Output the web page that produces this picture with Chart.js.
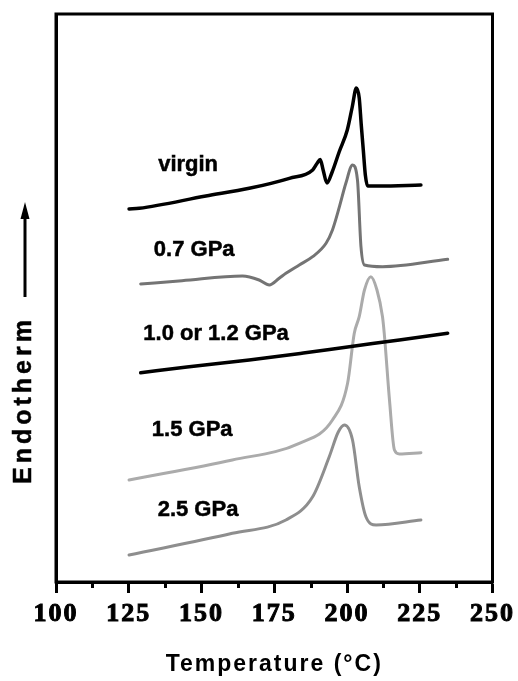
<!DOCTYPE html>
<html>
<head>
<meta charset="utf-8">
<script src="https://cdn.jsdelivr.net/npm/chart.js@4/dist/chart.umd.min.js"></script>
<style>
  html, body { margin: 0; padding: 0; background: #fff; }
  #wrap { width: 518px; height: 681px; }
</style>
</head>
<body>
<div id="wrap"><canvas id="c" width="518" height="681"></canvas></div>
<script>
// Temperature (°C) and endotherm signal (arbitrary units, curves offset vertically)
const virginT = [125.1,128.6,151.5,166.4,180.2,188.2,189.8,190.8,191.8,193.1,194.9,197.3,200.1,201.8,203.2,204.2,204.9,205.6,206.3,207.1,211.1,225.4];
const virginY = [373,373.7,386,393.7,403.7,412,419,422.5,412,399,410,430,452,475,494,484,457,432,407,396,396,397];

const gpa07T = [129.1,143.3,164.1,169.8,173.3,176.7,179.0,183.6,188.2,192.8,195.0,197.4,199.6,201.9,203.6,204.8,206,212.2,234.6];
const gpa07Y = [298,301.3,306,302,297,303.7,308.7,317,325.3,338.7,352,375.3,398.7,417,402,335.3,317,315.3,322.7];

const gpa10T = [129.1,145,166.4,185,200.8,218,234.6];
const gpa10Y = [209.3,215,222,229,235.3,242,248.7];

const gpa15T = [125.1,160.6,183.6,195.0,200.2,202.5,204.2,206,208.2,210.3,212.2,212.8,214.6,216.3,218,225.4];
const gpa15Y = [102,122,138.7,162,198.7,248.7,265.3,292,305.3,292,265.3,248.7,182,132,128,129.3];

const gpa25T = [125.1,160.6,179.0,188.2,193.9,197,199.1,201.9,204.2,206.5,210,225.4];
const gpa25Y = [27,48.7,62,85.3,125.3,150,157,142,95.3,65.3,57,62];

const curveNames = ['virgin', '0.7 GPa', '1.0 or 1.2 GPa', '1.5 GPa', '2.5 GPa'];
const xTickLabels = [100,125,150,175,200,225,250];
const minorTicks = [112.5,137.5,162.5,187.5,212.5,237.5];

// label anchors (in data units)
const labelAnchors = [
  {text: curveNames[0], x: 145.4, y: 417},
  {text: curveNames[1], x: 147.5, y: 332},
  {text: curveNames[2], x: 155.0, y: 248},
  {text: curveNames[3], x: 146.8, y: 152},
  {text: curveNames[4], x: 148.8, y: 72}
];

function pts(xs, ys) { return xs.map((x, i) => ({x: x, y: ys[i]})); }

const SANS = "'Liberation Sans', Arial, Helvetica, sans-serif";
const SERIF = "'Liberation Serif', 'Times New Roman', serif";

const decor = {
  id: 'decor',
  beforeDraw(chart) {
    chart.ctx.letterSpacing = '2px';
  },
  afterDraw(chart) {
    const ctx = chart.ctx;
    const a = chart.chartArea;
    const xs = chart.scales.x, ys = chart.scales.y;
    ctx.save();
    ctx.letterSpacing = '0px';
    // frame
    ctx.strokeStyle = '#000';
    ctx.lineWidth = 3;
    ctx.strokeRect(a.left, a.top, a.right - a.left, a.bottom - a.top);
    // minor ticks
    ctx.beginPath();
    minorTicks.forEach(v => {
      const px = Math.round(xs.getPixelForValue(v)) + 0.5;
      ctx.moveTo(px, a.bottom);
      ctx.lineTo(px, a.bottom + 6);
    });
    ctx.stroke();
    // curve labels
    ctx.fillStyle = '#000';
    ctx.strokeStyle = '#000';
    ctx.lineWidth = 0.5;
    ctx.font = 'bold 22px ' + SANS;
    ctx.textAlign = 'center';
    ctx.textBaseline = 'middle';
    labelAnchors.forEach(l => {
      const px = xs.getPixelForValue(l.x), py = ys.getPixelForValue(l.y);
      ctx.fillText(l.text, px, py);
      ctx.strokeText(l.text, px, py);
    });
    // y axis title with arrow
    ctx.save();
    ctx.translate(24, 402);
    ctx.rotate(-Math.PI / 2);
    ctx.font = 'bold 25px ' + SANS;
    ctx.letterSpacing = '4px';
    ctx.fillText('Endotherm', 2, 0);
    ctx.strokeText('Endotherm', 2, 0);
    ctx.restore();
    ctx.beginPath();
    ctx.lineWidth = 3;
    ctx.moveTo(25, 297);
    ctx.lineTo(25, 215);
    ctx.stroke();
    ctx.beginPath();
    ctx.moveTo(25, 202);
    ctx.lineTo(20.5, 219);
    ctx.lineTo(29.5, 219);
    ctx.closePath();
    ctx.fill();
    ctx.restore();
  }
};

new Chart(document.getElementById('c'), {
  type: 'line',
  data: {
    datasets: [
      {label: curveNames[0], data: pts(virginT, virginY), borderColor: '#000000', borderWidth: 3.5},
      {label: curveNames[1], data: pts(gpa07T, gpa07Y), borderColor: '#747474', borderWidth: 3},
      {label: curveNames[2], data: pts(gpa10T, gpa10Y), borderColor: '#000000', borderWidth: 3.5},
      {label: curveNames[3], data: pts(gpa15T, gpa15Y), borderColor: '#ababab', borderWidth: 3},
      {label: curveNames[4], data: pts(gpa25T, gpa25Y), borderColor: '#8e8e8e', borderWidth: 3}
    ]
  },
  options: {
    responsive: false,
    animation: false,
    events: [],
    layout: {padding: {top: 14, right: 24, left: 0, bottom: 0}},
    elements: {
      point: {radius: 0},
      line: {cubicInterpolationMode: 'monotone', fill: false, borderCapStyle: 'round', borderJoinStyle: 'round'}
    },
    plugins: {legend: {display: false}, tooltip: {enabled: false}},
    scales: {
      x: {
        type: 'linear',
        min: xTickLabels[0],
        max: xTickLabels[xTickLabels.length - 1],
        afterFit(s) { s.height = 99; },
        afterBuildTicks(s) { s.ticks = xTickLabels.map(v => ({value: v})); },
        ticks: {
          color: '#000',
          padding: 6,
          maxRotation: 0,
          autoSkip: false,
          textStrokeColor: '#000',
          textStrokeWidth: 1,
          font: {family: SERIF, size: 26, weight: 'bold'}
        },
        grid: {drawOnChartArea: false, drawTicks: true, tickLength: 11, tickWidth: 3, tickColor: '#000'},
        border: {display: true, color: '#000', width: 3},
        title: {
          display: true,
          text: 'Temperature (°C)',
          color: '#000',
          font: {family: SANS, size: 23, weight: 'bold'},
          padding: {top: 0, bottom: 3}
        }
      },
      y: {
        type: 'linear',
        min: 0,
        max: 568,
        afterFit(s) { s.width = 56; },
        ticks: {display: false},
        grid: {display: false, drawTicks: false},
        border: {display: true, color: '#000', width: 3}
      }
    }
  },
  plugins: [decor]
});
</script>
</body>
</html>
